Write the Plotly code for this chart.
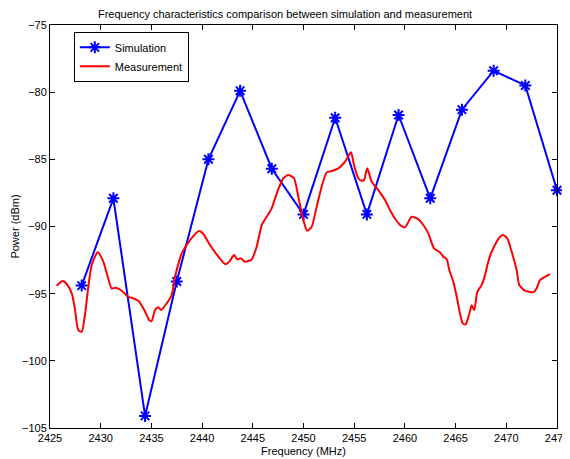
import plotly.graph_objects as go

# simulation points (MHz, dBm)
sim_freq = [2428.125, 2431.25, 2434.375, 2437.5, 2440.625, 2443.75, 2446.875, 2450.0,
            2453.125, 2456.25, 2459.375, 2462.5, 2465.625, 2468.75, 2471.875, 2475.0]
sim_power = [-94.4, -87.9, -104.1, -94.1, -85.0, -79.9, -85.7, -89.1,
             -81.9, -89.1, -81.7, -87.9, -81.3, -78.4, -79.5, -87.3]

# measured trace (MHz, dBm)
meas_freq = [2425.66, 2426.25, 2426.65, 2427.17, 2427.47, 2427.79, 2428.13, 2428.42,
             2428.78, 2429.11, 2429.70, 2430.20, 2430.65, 2431.08, 2431.51, 2432.07,
             2432.72, 2433.21, 2433.71, 2434.27, 2434.79, 2435.03, 2435.36, 2435.68,
             2435.95, 2436.51, 2437.00, 2437.33, 2437.82, 2437.99, 2438.81, 2439.72,
             2440.12, 2440.78, 2441.70, 2442.26, 2442.68, 2443.15, 2443.47, 2443.81,
             2444.23, 2444.89, 2445.38, 2445.88, 2446.37, 2446.86, 2447.42, 2448.01,
             2448.50, 2449.06, 2449.49, 2449.98, 2450.37, 2450.81, 2451.30, 2451.79,
             2452.29, 2452.78, 2453.43, 2454.09, 2454.68, 2454.98, 2455.40, 2455.74,
             2455.97, 2456.29, 2456.73, 2457.38, 2458.04, 2458.53, 2459.12, 2459.52,
             2460.01, 2460.67, 2461.32, 2461.81, 2462.31, 2462.87, 2463.46, 2463.79,
             2464.12, 2464.38, 2464.77, 2465.11, 2465.43, 2465.70, 2465.99, 2466.32,
             2466.59, 2466.84, 2467.14, 2467.57, 2467.90, 2468.22, 2468.56, 2469.05,
             2469.38, 2469.70, 2470.10, 2470.53, 2471.02, 2471.28, 2471.84, 2472.27,
             2472.66, 2472.99, 2473.32, 2473.82, 2474.31]
meas_power = [-94.41, -94.06, -94.28, -95.03, -96.22, -97.71, -97.84, -96.72,
              -94.49, -92.87, -91.92, -92.50, -93.61, -94.61, -94.56, -94.78,
              -95.23, -95.35, -95.53, -96.17, -96.97, -97.04, -96.22, -96.02,
              -96.22, -95.72, -95.10, -93.74, -92.37, -92.00, -91.01, -90.34,
              -90.56, -91.38, -92.33, -92.80, -92.62, -92.13, -92.45, -92.37,
              -92.62, -92.45, -91.51, -89.89, -89.27, -88.65, -87.41, -86.41,
              -86.17, -86.41, -87.78, -89.52, -90.32, -90.02, -88.53, -87.04,
              -85.97, -85.87, -85.67, -85.18, -84.48, -85.42, -86.41, -86.59,
              -86.54, -85.67, -86.67, -87.29, -88.03, -88.77, -89.52, -89.89,
              -90.06, -89.27, -89.45, -89.89, -90.51, -91.63, -91.92, -92.25,
              -92.42, -93.24, -94.11, -95.23, -96.47, -97.21, -97.29, -96.59,
              -95.87, -96.22, -94.86, -94.36, -93.62, -92.62, -91.88, -91.14,
              -90.76, -90.64, -90.88, -91.88, -93.24, -94.36, -94.78, -94.86,
              -94.90, -94.61, -93.99, -93.74, -93.54]

x_ticks = list(range(2425, 2476, 5))
y_ticks = list(range(-105, -74, 5))

fig = go.Figure()
fig.add_trace(go.Scatter(
    x=sim_freq, y=sim_power, mode="lines+markers", name="Simulation",
    line=dict(color="#0000ff", width=2),
    marker=dict(symbol="asterisk-open", size=10, line=dict(color="#0000ff", width=2)),
    cliponaxis=False,
))
fig.add_trace(go.Scatter(
    x=meas_freq, y=meas_power, mode="lines", name="Measurement",
    line=dict(color="#ff0000", width=2, shape="spline", smoothing=0.6),
))

axis_style = dict(
    showline=True, linecolor="black", linewidth=1, mirror="ticks",
    ticks="inside", ticklen=5, tickcolor="black", showgrid=False, zeroline=False,
    tickfont=dict(size=11, color="black"), automargin=False,
    ticklabeloverflow="allow",
)
fig.update_xaxes(range=[2425, 2475], tickvals=x_ticks,
                 title=dict(text="Frequency (MHz)", font=dict(size=11), standoff=4),
                 **axis_style)
fig.update_yaxes(range=[-105, -75], tickvals=y_ticks,
                 title=dict(text="Power (dBm)", font=dict(size=11), standoff=0),
                 **axis_style)

# page body adds an 8px offset, so the figure is sized to fit the window
fig.update_layout(
    width=562, height=451,
    margin=dict(l=42, r=13, t=17, b=31),
    paper_bgcolor="white", plot_bgcolor="white",
    font=dict(family="Liberation Sans, Arial, sans-serif", size=11, color="black"),
    title=dict(text="Frequency characteristics comparison between simulation and measurement",
               x=(285 - 8) / 562, xref="container", xanchor="center",
               y=1 - 2 / 451, yref="container", yanchor="top",
               font=dict(size=11), automargin=False),
    legend=dict(x=0.047, y=0.983, xanchor="left", yanchor="top",
                bordercolor="black", borderwidth=1, bgcolor="white",
                font=dict(size=11), tracegroupgap=0, itemwidth=30),
    showlegend=True,
)

fig.write_html("out.html")
